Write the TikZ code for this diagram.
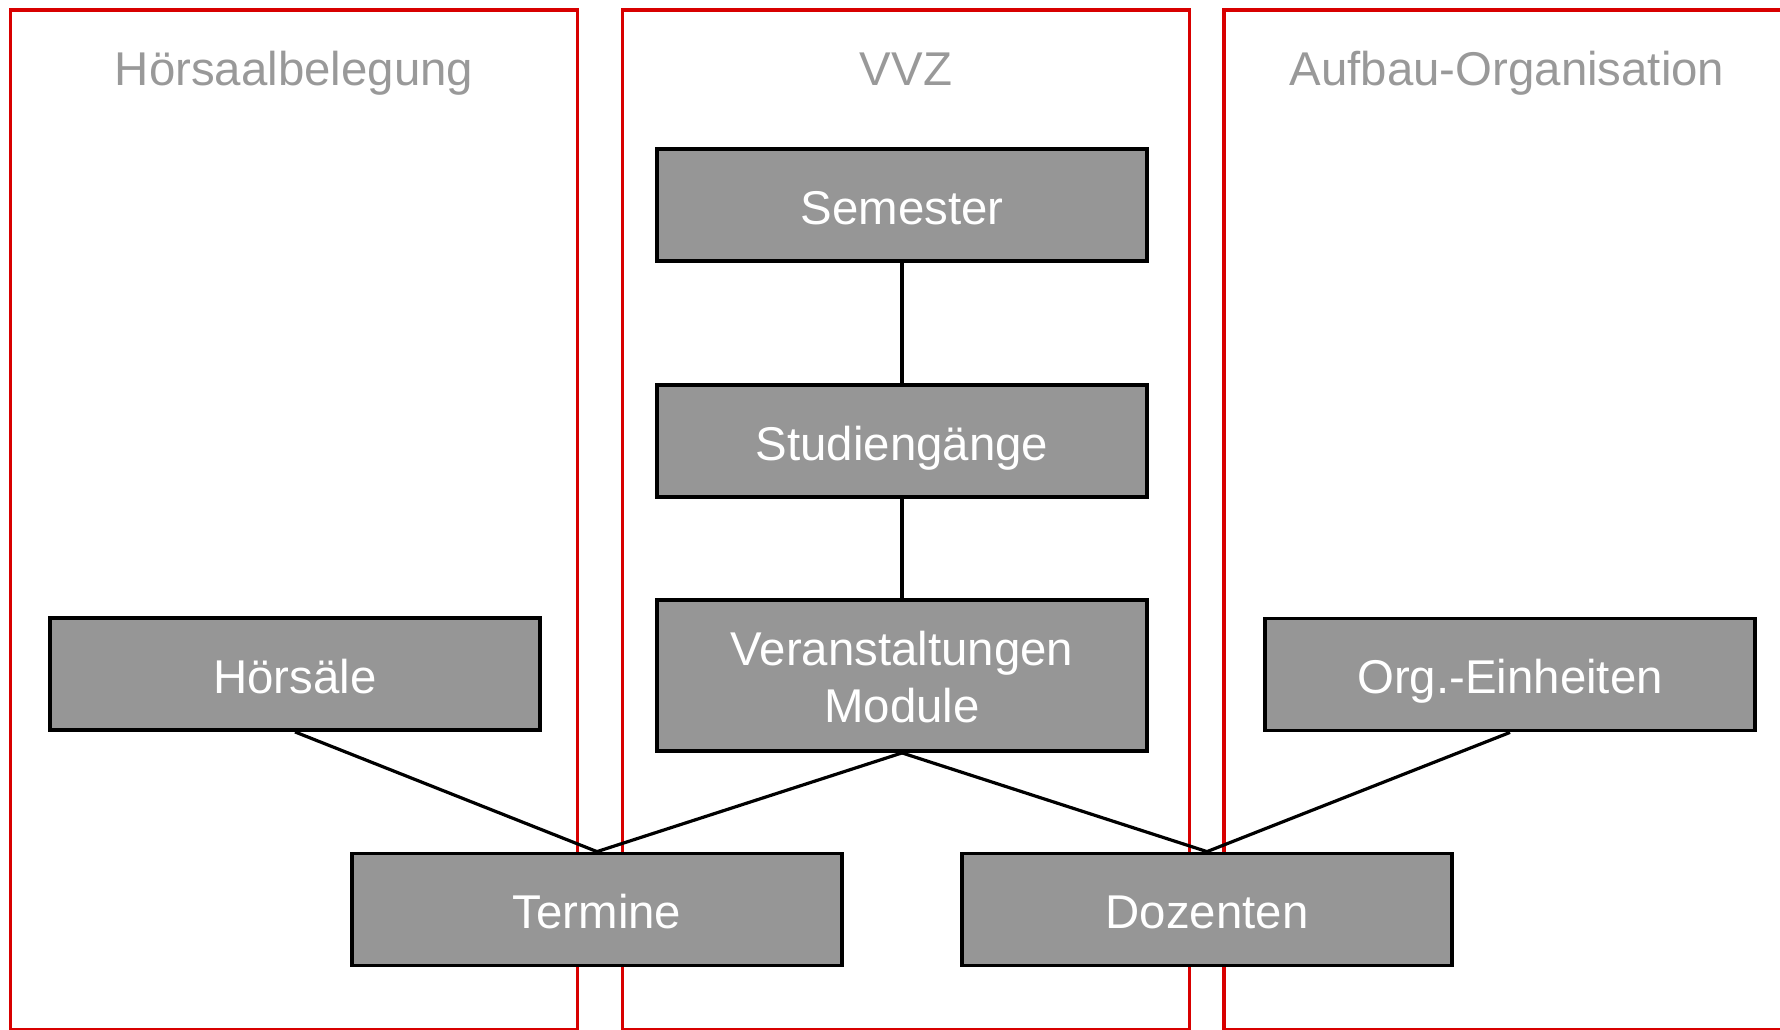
\documentclass[tikz,border=0pt]{standalone}
\usepackage{fontspec}
\setmainfont{Liberation Sans}
\definecolor{panelred}{RGB}{216,0,0}
\definecolor{boxgray}{RGB}{150,150,150}
\definecolor{titlegray}{RGB}{153,153,153}
\tikzset{
  panel/.style={draw=panelred, line width=1.6pt},
  paneltitle/.style={text=titlegray, font=\fontsize{23.7}{28}\selectfont, inner sep=0pt, anchor=base},
  entity/.style={draw=black, fill=boxgray, line width=1.9pt, text=white,
    minimum width=245pt, minimum height=56pt, inner sep=0pt,
    font=\fontsize{23.7}{28.5}\selectfont, align=center},
  oneline/.style={text height=19pt, text depth=0pt},
  tall/.style={minimum height=75.5pt},
  link/.style={draw=black, line width=1.6pt}
}
\begin{document}
\begin{tikzpicture}[x=0.5pt, y=-0.5pt]
\useasboundingbox (0,0) rectangle (1780,1029);
% panels
\draw[panel] (10.3,10) rectangle (577.3,1029.3);
\draw[panel] (622.3,10) rectangle (1189.3,1029.3);
\draw[panel] (1224,10) rectangle (1795,1029.3);
% titles
\node[paneltitle] (t1) at (294,85) {Hörsaalbelegung};
\node[paneltitle] (t2) at (906,85) {VVZ};
\node[paneltitle] (t3) at (1507,85) {Aufbau-Organisation};
% entities
\node[entity, oneline] (sem) at (902,205) {Semester};
\node[entity, oneline] (stg) at (902,441) {Studiengänge};
\node[entity, tall] (vm) at (902,675.5) {\rule{0pt}{19pt}Veranstaltungen\\Module};
\node[entity, oneline] (hs) at (295,674) {Hörsäle};
\node[entity, oneline] (org) at (1510,674.5) {Org.-Einheiten};
\node[entity, oneline] (ter) at (597,909.5) {Termine};
\node[entity, oneline] (doz) at (1207,909.5) {Dozenten};
% connectors
\draw[link] (sem.south) -- (stg.north);
\draw[link] (stg.south) -- (vm.north);
\draw[link] (hs.south) -- (ter.north);
\draw[link] (vm.south) -- (ter.north);
\draw[link] (vm.south) -- (doz.north);
\draw[link] (org.south) -- (doz.north);
\end{tikzpicture}
\end{document}
